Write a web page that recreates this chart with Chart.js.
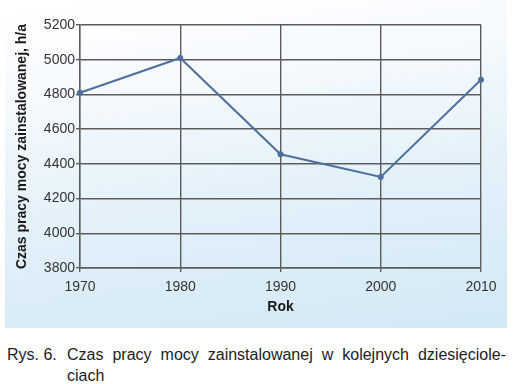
<!DOCTYPE html>
<html>
<head>
<meta charset="utf-8">
<script src="https://cdn.jsdelivr.net/npm/chart.js@4/dist/chart.umd.min.js"></script>
<style>
body{margin:0;background:#fff;font-family:"Liberation Sans",Arial,sans-serif;}
#wrap{position:relative;width:515px;height:330px;}
#panel{position:absolute;left:5px;top:0;width:502px;height:328px;
background:linear-gradient(172deg,#ffffff 0%,#f6fafd 25%,#e2f0f9 60%,#d2e8f5 100%);}
#chart{position:absolute;left:0;top:0;}
#cap{position:absolute;left:7px;top:344px;width:499px;font-size:16px;color:#222;line-height:21px;}
#cap .num{position:absolute;left:0;top:0;}
#cap .l1{margin-left:60px;text-align:justify;text-align-last:justify;}
#cap .l2{margin-left:60px;}
</style>
</head>
<body>
<div id="wrap">
<div id="panel"></div>
<canvas id="chart" width="515" height="330"></canvas>
</div>
<div id="cap"><span class="num">Rys. 6.</span><div class="l1">Czas pracy mocy zainstalowanej w kolejnych dziesięciole-</div><div class="l2">ciach</div></div>
<script>
// lata i czas pracy mocy zainstalowanej, h/a
const years = ["1970","1980","1990","2000","2010"];
const hours = [4810, 5010, 4455, 4325, 4885];
const yMin = 3800, yMax = 5200, yStep = 200;

const gridColor = "#5c5c5c";
const lineColor = "#4f6f9d";

new Chart(document.getElementById("chart"),{
type:"line",
data:{
labels:years,
datasets:[{
data:hours,
borderColor:lineColor,
backgroundColor:lineColor,
borderWidth:2,
pointRadius:2,
pointHoverRadius:2,
fill:false,
tension:0
}]
},
options:{
responsive:false,
animation:false,
layout:{padding:{top:25,right:34,left:0,bottom:0}},
plugins:{legend:{display:false},tooltip:{enabled:false}},
scales:{
x:{
offset:false,
afterFit(s){s.height=62;},
grid:{color:gridColor,lineWidth:1.4,tickLength:4},
border:{color:gridColor,width:1.4},
ticks:{color:"#333",padding:7,font:{family:"Liberation Sans",size:14}},
title:{display:true,text:"Rok",color:"#1a1a1a",padding:{top:0,bottom:14},
font:{family:"Liberation Sans",size:14,weight:"bold"}}
},
y:{
min:yMin,max:yMax,
afterFit(s){s.width=80;},
grid:{color:gridColor,lineWidth:1.4,tickLength:4},
border:{color:gridColor,width:1.4},
ticks:{stepSize:yStep,color:"#333",padding:1,font:{family:"Liberation Sans",size:14},
callback:v=>String(v)},
title:{display:true,text:"Czas pracy mocy zainstalowanej, h/a",color:"#1a1a1a",padding:{top:14,bottom:0},
font:{family:"Liberation Sans",size:14,weight:"bold"}}
}
}
}
});
</script>
</body>
</html>
